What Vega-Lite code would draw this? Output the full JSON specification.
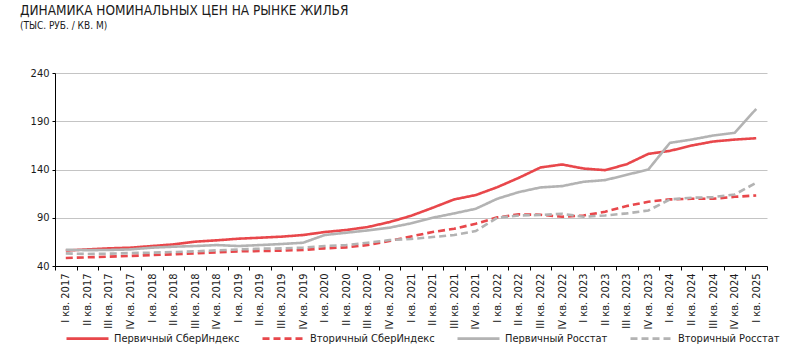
{
  "$schema": "https://vega.github.io/schema/vega-lite/v6.json",
  "autosize": {"type": "none"},
  "width": 712,
  "height": 193,
  "padding": {"left": 55, "top": 73, "right": 33, "bottom": 90},
  "background": "#ffffff",
  "title": {
    "text": "ДИНАМИКА НОМИНАЛЬНЫХ ЦЕН НА РЫНКЕ ЖИЛЬЯ",
    "subtitle": "(ТЫС. РУБ. / КВ. М)",
    "anchor": "start",
    "frame": "group",
    "dx": -35,
    "offset": 36,
    "fontSize": 13.5,
    "fontWeight": "normal",
    "color": "#1a1a1a",
    "subtitleFontSize": 10,
    "subtitleColor": "#1a1a1a",
    "subtitlePadding": 4
  },
  "data": {
    "values": [
      {"q": "I кв. 2017", "Первичный СберИндекс": 56, "Вторичный СберИндекс": 48.3, "Первичный Росстат": 56.8, "Вторичный Росстат": 53.1},
      {"q": "II кв. 2017", "Первичный СберИндекс": 57.2, "Вторичный СберИндекс": 49, "Первичный Росстат": 56.4, "Вторичный Росстат": 52.4},
      {"q": "III кв. 2017", "Первичный СберИндекс": 58.3, "Вторичный СберИндекс": 49.7, "Первичный Росстат": 56.6, "Вторичный Росстат": 52.8},
      {"q": "IV кв. 2017", "Первичный СберИндекс": 59, "Вторичный СберИндекс": 50.4, "Первичный Росстат": 57.2, "Вторичный Росстат": 53.4},
      {"q": "I кв. 2018", "Первичный СберИндекс": 60.7, "Вторичный СберИндекс": 51.4, "Первичный Росстат": 59, "Вторичный Росстат": 53.8},
      {"q": "II кв. 2018", "Первичный СберИндекс": 62.4, "Вторичный СберИндекс": 52.1, "Первичный Росстат": 60, "Вторичный Росстат": 54.5},
      {"q": "III кв. 2018", "Первичный СберИндекс": 65.2, "Вторичный СберИндекс": 53.1, "Первичный Росстат": 60.7, "Вторичный Росстат": 55.2},
      {"q": "IV кв. 2018", "Первичный СберИндекс": 66.6, "Вторичный СберИндекс": 54.2, "Первичный Росстат": 61.7, "Вторичный Росстат": 56.2},
      {"q": "I кв. 2019", "Первичный СберИндекс": 68.3, "Вторичный СберИндекс": 55.2, "Первичный Росстат": 60.7, "Вторичный Росстат": 57.2},
      {"q": "II кв. 2019", "Первичный СберИндекс": 69.3, "Вторичный СберИндекс": 55.5, "Первичный Росстат": 61.7, "Вторичный Росстат": 57.9},
      {"q": "III кв. 2019", "Первичный СберИндекс": 70.4, "Вторичный СберИндекс": 55.9, "Первичный Росстат": 62.8, "Вторичный Росстат": 58.3},
      {"q": "IV кв. 2019", "Первичный СберИндекс": 72.1, "Вторичный СберИндекс": 56.6, "Первичный Росстат": 64.1, "Вторичный Росстат": 59},
      {"q": "I кв. 2020", "Первичный СберИндекс": 75.2, "Вторичный СберИндекс": 58.3, "Первичный Росстат": 72.1, "Вторичный Росстат": 60.7},
      {"q": "II кв. 2020", "Первичный СберИндекс": 77.3, "Вторичный СберИндекс": 59.3, "Первичный Росстат": 74.5, "Вторичный Росстат": 61.7},
      {"q": "III кв. 2020", "Первичный СберИндекс": 80.4, "Вторичный СберИндекс": 61.7, "Первичный Росстат": 76.9, "Вторичный Росстат": 64.1},
      {"q": "IV кв. 2020", "Первичный СберИндекс": 85.5, "Вторичный СберИндекс": 65.9, "Первичный Росстат": 79.7, "Вторичный Росстат": 66.9},
      {"q": "I кв. 2021", "Первичный СберИндекс": 92, "Вторичный СберИндекс": 70.6, "Первичный Росстат": 84.2, "Вторичный Росстат": 68},
      {"q": "II кв. 2021", "Первичный СберИндекс": 100.3, "Вторичный СберИндекс": 75.2, "Первичный Росстат": 90, "Вторичный Росстат": 70},
      {"q": "III кв. 2021", "Первичный СберИндекс": 109, "Вторичный СберИндекс": 78.6, "Первичный Росстат": 94.5, "Вторичный Росстат": 72.1},
      {"q": "IV кв. 2021", "Первичный СберИндекс": 113.5, "Вторичный СберИндекс": 83.8, "Первичный Росстат": 99.3, "Вторичный Росстат": 76.2},
      {"q": "I кв. 2022", "Первичный СберИндекс": 121.7, "Вторичный СберИндекс": 90.4, "Первичный Росстат": 109.7, "Вторичный Росстат": 90},
      {"q": "II кв. 2022", "Первичный СберИндекс": 131.4, "Вторичный СберИндекс": 93.5, "Первичный Росстат": 116.6, "Вторичный Росстат": 92.4},
      {"q": "III кв. 2022", "Первичный СберИндекс": 142.1, "Вторичный СберИндекс": 93.1, "Первичный Росстат": 121.4, "Вторичный Росстат": 92.8},
      {"q": "IV кв. 2022", "Первичный СберИндекс": 145.2, "Вторичный СберИндекс": 91, "Первичный Росстат": 122.8, "Вторичный Росстат": 94.1},
      {"q": "I кв. 2023", "Первичный СберИндекс": 141, "Вторичный СберИндекс": 92.4, "Первичный Росстат": 127.3, "Вторичный Росстат": 91},
      {"q": "II кв. 2023", "Первичный СберИндекс": 139.3, "Вторичный СберИндекс": 96.2, "Первичный Росстат": 129, "Вторичный Росстат": 92.4},
      {"q": "III кв. 2023", "Первичный СберИндекс": 145.5, "Вторичный СберИндекс": 102.1, "Первичный Росстат": 134.5, "Вторичный Росстат": 94.5},
      {"q": "IV кв. 2023", "Первичный СберИндекс": 156.2, "Вторичный СберИндекс": 106.6, "Первичный Росстат": 140, "Вторичный Росстат": 97.6},
      {"q": "I кв. 2024", "Первичный СберИндекс": 159.3, "Вторичный СберИндекс": 109, "Первичный Росстат": 167.6, "Вторичный Росстат": 109},
      {"q": "II кв. 2024", "Первичный СберИндекс": 164.8, "Вторичный СберИндекс": 109.7, "Первичный Росстат": 171, "Вторичный Росстат": 110.7},
      {"q": "III кв. 2024", "Первичный СберИндекс": 169, "Вторичный СберИндекс": 109.7, "Первичный Росстат": 175.2, "Вторичный Росстат": 111.4},
      {"q": "IV кв. 2024", "Первичный СберИндекс": 171, "Вторичный СберИндекс": 111.7, "Первичный Росстат": 178, "Вторичный Росстат": 114.1},
      {"q": "I кв. 2025", "Первичный СберИндекс": 172.4, "Вторичный СберИндекс": 113.1, "Первичный Росстат": 202.8, "Вторичный Росстат": 126.2}
    ]
  },
  "transform": [
    {"fold": ["Первичный СберИндекс", "Вторичный СберИндекс", "Первичный Росстат", "Вторичный Росстат"], "as": ["series", "value"]}
  ],
  "mark": {"type": "line", "strokeWidth": 2.6},
  "encoding": {
    "x": {
      "field": "q",
      "type": "ordinal",
      "sort": null,
      "bandPosition": 0.5,
      "scale": {"type": "band", "paddingInner": 0, "paddingOuter": 0},
      "axis": {
        "title": null,
        "tickBand": "extent",
        "labelAngle": 270,
        "labelFontSize": 11,
        "labelColor": "#1a1a1a",
        "labelPadding": 3,
        "tickSize": 4,
        "tickColor": "#000000",
        "domainColor": "#000000",
        "grid": false
      }
    },
    "y": {
      "field": "value",
      "type": "quantitative",
      "scale": {"domain": [40, 240], "nice": false, "zero": false},
      "axis": {
        "title": null,
        "values": [40, 90, 140, 190, 240],
        "labelFontSize": 11,
        "labelColor": "#1a1a1a",
        "tickSize": 3,
        "tickColor": "#000000",
        "domainColor": "#000000",
        "labelPadding": 3,
        "grid": true,
        "gridColor": "#c4c4c4",
        "gridWidth": 1
      }
    },
    "color": {
      "field": "series",
      "type": "nominal",
      "scale": {
        "domain": ["Первичный СберИндекс", "Вторичный СберИндекс", "Первичный Росстат", "Вторичный Росстат"],
        "range": ["#e8474b", "#e8474b", "#b3b3b3", "#b3b3b3"]
      },
      "legend": {
        "title": null,
        "orient": "none",
        "legendX": 10,
        "legendY": 243,
        "direction": "horizontal",
        "columns": 4,
        "columnPadding": 17,
        "symbolType": "stroke",
        "symbolSize": 1764,
        "symbolStrokeWidth": 2.6,
        "labelFontSize": 11,
        "labelColor": "#1a1a1a",
        "labelOffset": 4,
        "labelLimit": 300
      }
    },
    "strokeDash": {
      "field": "series",
      "type": "nominal",
      "scale": {
        "domain": ["Первичный СберИндекс", "Вторичный СберИндекс", "Первичный Росстат", "Вторичный Росстат"],
        "range": [[1, 0], [7, 4], [1, 0], [7, 4]]
      },
      "legend": {
        "title": null,
        "orient": "none",
        "legendX": 10,
        "legendY": 243,
        "direction": "horizontal",
        "columns": 4,
        "columnPadding": 17,
        "symbolType": "stroke",
        "symbolSize": 1764,
        "symbolStrokeWidth": 2.6,
        "labelFontSize": 11,
        "labelColor": "#1a1a1a",
        "labelOffset": 4,
        "labelLimit": 300
      }
    }
  },
  "config": {
    "font": "DejaVu Sans Condensed",
    "view": {"stroke": null}
  }
}
